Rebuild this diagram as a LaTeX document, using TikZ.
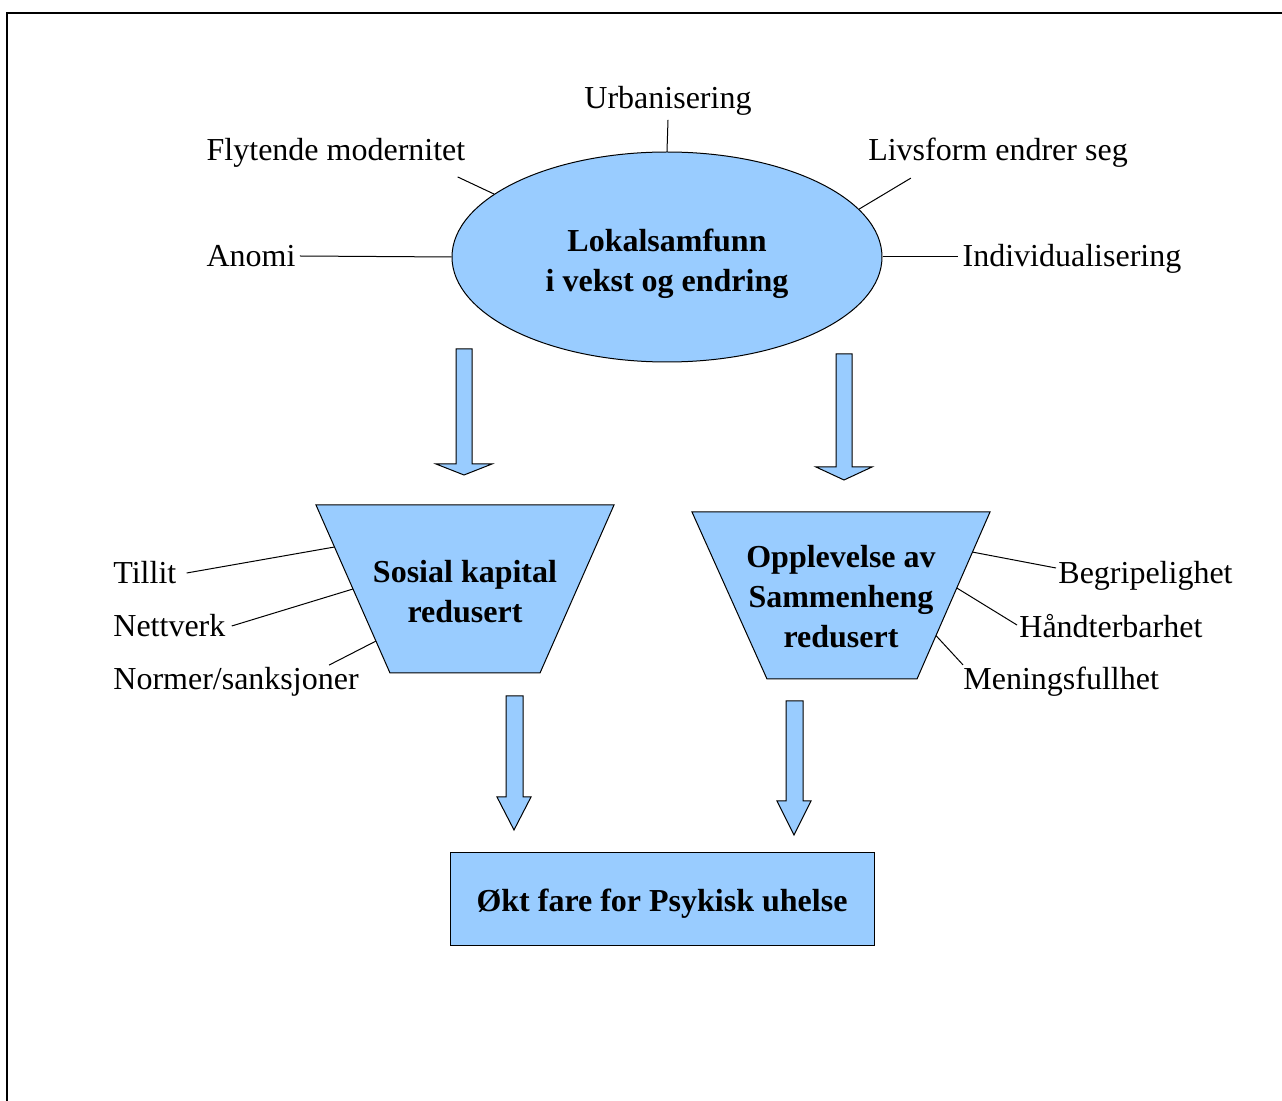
\documentclass[tikz,border=0pt]{standalone}
\usepackage{fontspec}
\setmainfont{Liberation Serif}
\usetikzlibrary{shapes.geometric,calc}
\definecolor{paleblue}{HTML}{99CCFF}
\tikzset{
  shapebox/.style={draw=black, fill=paleblue, line width=0.5pt},
  tag/.style={font=\fontsize{16}{19}\selectfont, inner sep=2pt},
  title/.style={font=\fontsize{16}{20}\selectfont\bfseries, align=center},
  wire/.style={line width=0.5pt}
}
\begin{document}
\begin{tikzpicture}[x=0.5pt,y=-0.5pt]
\useasboundingbox (0,0) rectangle (1282,1101);
% frame
\draw[line width=1pt] (7,1101) -- (7,13) -- (1282,13);

% centre ellipse and what feeds it
\node[shapebox, ellipse, minimum width=215pt, minimum height=105pt, inner sep=0pt] (lok) at (667,257) {};
\node[title, yshift=-3.5pt] (loktext) at (lok) {Lokalsamfunn\\i vekst og endring};
\node[tag] (urb) at (668,101) {Urbanisering};
\node[tag] (fly) at (336,153) {Flytende modernitet};
\node[tag] (liv) at (998,153) {Livsform endrer seg};
\node[tag] (ano) at (251,256) {Anomi};
\node[tag] (ind) at (1072,259) {Individualisering};
\draw[wire] (urb.south) -- (lok.north);
\draw[wire] ($(fly.south east)+(-12,5)$) -- (lok.160);
\draw[wire] ($(liv.south west)+(47,6)$) -- (lok.14);
\draw[wire] (ano.east) -- (lok.west);
\draw[wire] (lok.east) -- (lok.east -| ind.west);

% block arrows down
\draw[shapebox] (456,349) -- (472,349) -- (472,464) -- (492,464) -- (464,475) -- (436,464) -- (456,464) -- cycle;
\draw[shapebox] (836,354) -- (852,354) -- (852,467) -- (872,467) -- (844,480) -- (816,467) -- (836,467) -- cycle;

% left trapezoid
\draw[shapebox] (316,505) coordinate (s1) -- (614,505) coordinate (s2) -- (540,673) coordinate (s3) -- (390,673) coordinate (s4) -- cycle;
\node[title] (sos) at (465,592) {Sosial kapital\\redusert};
\node[tag, anchor=west] (til) at (109,573) {Tillit};
\node[tag, anchor=west] (net) at (109,626) {Nettverk};
\node[tag, anchor=west] (nor) at (109,682) {Normer/sanksjoner};
\draw[wire] ($(til.east)+(6,0)$) -- ($(s1)!.25!(s4)$);
\draw[wire] ($(net.east)+(2,0)$) -- ($(s1)!.5!(s4)$);
\draw[wire] ($(nor.north east)+(-34,2)$) -- ($(s1)!.81!(s4)$);

% right trapezoid
\draw[shapebox] (692,512) coordinate (o1) -- (990,512) coordinate (o2) -- (917,679) coordinate (o3) -- (767,679) coordinate (o4) -- cycle;
\node[title] (opp) at (841,597) {Opplevelse av\\Sammenheng\\redusert};
\node[tag, anchor=west] (beg) at (1054,576) {Begripelighet};
\node[tag, anchor=west] (han) at (1015,626) {Håndterbarhet};
\node[tag, anchor=west] (men) at (959,682) {Meningsfullhet};
\draw[wire] ($(o2)!.24!(o3)$) -- ($(beg.west)+(2,-8)$);
\draw[wire] ($(o2)!.455!(o3)$) -- ($(han.west)+(2,-1)$);
\draw[wire] ($(o2)!.74!(o3)$) -- ($(men.north west)+(4,2)$);

% block arrows to result
\draw[shapebox] (506,696) -- (523,696) -- (523,797) -- (531,797) -- (514,830) -- (497,797) -- (506,797) -- cycle;
\draw[shapebox] (786,701) -- (803,701) -- (803,801) -- (811,801) -- (794,835) -- (777,801) -- (786,801) -- cycle;

% result
\node[shapebox, rectangle, minimum width=212pt, minimum height=46.5pt] (fare) at (662,899.5) {};
\node[title, yshift=-2pt] (faretext) at (fare) {Økt fare for Psykisk uhelse};
\end{tikzpicture}
\end{document}
